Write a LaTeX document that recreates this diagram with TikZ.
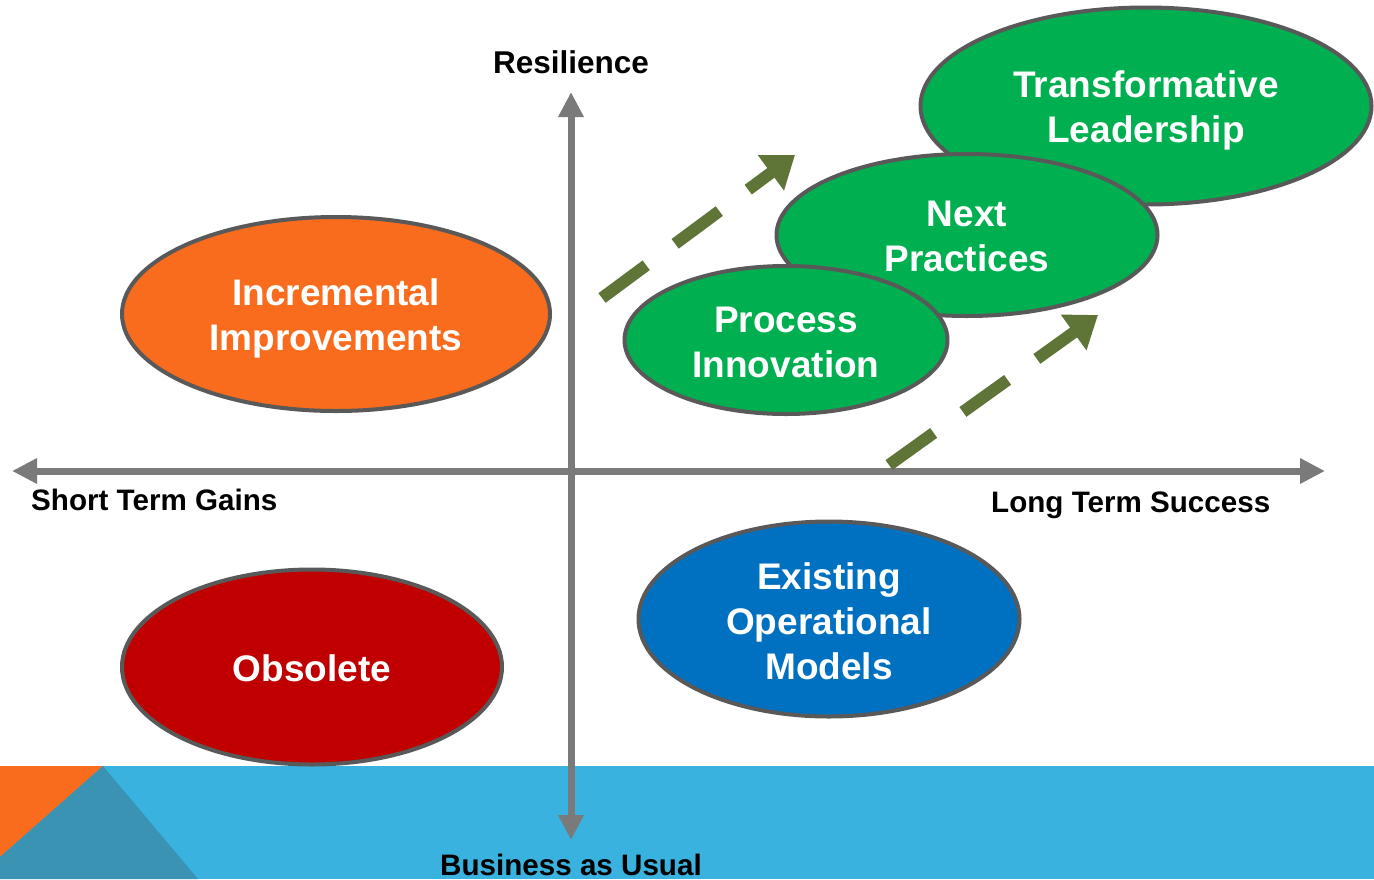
\documentclass[tikz,border=0pt]{standalone}
\usepackage{fontspec}
\setmainfont{Liberation Sans}
\usetikzlibrary{arrows.meta,shapes.geometric}
\definecolor{bandblue}{HTML}{3AB2DF}
\definecolor{bandteal}{HTML}{3A93B3}
\definecolor{bandorange}{HTML}{F96C1D}
\definecolor{ellorange}{HTML}{F96C1D}
\definecolor{ellred}{HTML}{C00000}
\definecolor{ellblue}{HTML}{0070C0}
\definecolor{ellgreen}{HTML}{00B050}
\definecolor{ellborder}{HTML}{595959}
\definecolor{axisgray}{HTML}{7A7A7A}
\definecolor{olive}{HTML}{5E7537}
\tikzset{
  blob/.style={ellipse, draw=ellborder, line width=4pt, inner sep=0pt},
  blobtext/.style={text=white, inner sep=0pt,
    font=\fontsize{37}{45}\selectfont\bfseries, align=center},
  axislbl/.style={font=\fontsize{29.6}{34}\selectfont\bfseries, text=black, inner sep=0pt},
  axisline/.style={draw=axisgray, line width=7pt, {Triangle[length=25pt,width=24pt]}-{Triangle[length=25pt,width=24pt]}},
  trend/.style={draw=olive, line width=12pt, dash pattern=on 55pt off 36pt, -{Triangle[length=30pt,width=42pt]}}
}
\begin{document}
\begin{tikzpicture}[x=1pt,y=-1pt]
\useasboundingbox (0,0) rectangle (1374,879);
% bottom band
\fill[bandblue] (0,766) rectangle (1374,879);
\fill[bandorange] (0,766) -- (103,766) -- (0,857) -- cycle;
\fill[bandteal] (103,766) -- (0,857) -- (0,879) -- (198,879) -- cycle;
% ellipses
\node[blob, fill=ellorange, minimum width=428pt, minimum height=194pt] (inc) at (336,314) {};
\node[blobtext] (incT) at ([yshift=-4pt]inc.center) {Incremental\\Improvements};
\node[blob, fill=ellred, minimum width=380pt, minimum height=195pt] (obs) at (312,667) {};
\node[blobtext] (obsT) at ([yshift=-1pt]obs.center) {Obsolete};
\node[blob, fill=ellblue, minimum width=381pt, minimum height=195pt] (exi) at (829,619) {};
\node[blobtext] (exiT) at ([yshift=-2pt]exi.center) {Existing\\Operational\\Models};
\node[blob, fill=ellgreen, minimum width=451pt, minimum height=197pt] (tra) at (1146,106) {};
\node[blobtext] (traT) at ([yshift=-4pt]tra.center) {Transformative\\Leadership};
\node[blob, fill=ellgreen, minimum width=381pt, minimum height=162pt] (nex) at (967,235) {};
\node[blobtext] (nexT) at ([yshift=-1pt]nex.center) {Next\\Practices};
\node[blob, fill=ellgreen, minimum width=323pt, minimum height=148pt] (pro) at (786,340) {};
\node[blobtext] (proT) at ([yshift=-2pt]pro.center) {Process\\Innovation};
% axes
\coordinate (xl) at (12,471);
\coordinate (xr) at (1325,471);
\coordinate (yt) at (571,92);
\coordinate (yb) at (571,840);
\draw[axisline] (xl) -- (xr);
\draw[axisline] (yb) -- (yt);
% axis labels
\node[axislbl, font=\fontsize{31.5}{36}\selectfont\bfseries] (res) at (571,62) {Resilience};
\node[axislbl, anchor=west] (stg) at (31,500) {Short Term Gains};
\node[axislbl, anchor=west] (lts) at (991,505) {Long Term Success};
\node[axislbl] (bau) at (571,865) {Business as Usual};
% trend arrows
\coordinate (a1s) at (602,298);
\coordinate (a1e) at (795,155);
\coordinate (a2s) at (889,465);
\coordinate (a2e) at (1098,315);
\draw[trend] (a1s) -- (a1e);
\draw[trend] (a2s) -- (a2e);
\end{tikzpicture}
\end{document}
